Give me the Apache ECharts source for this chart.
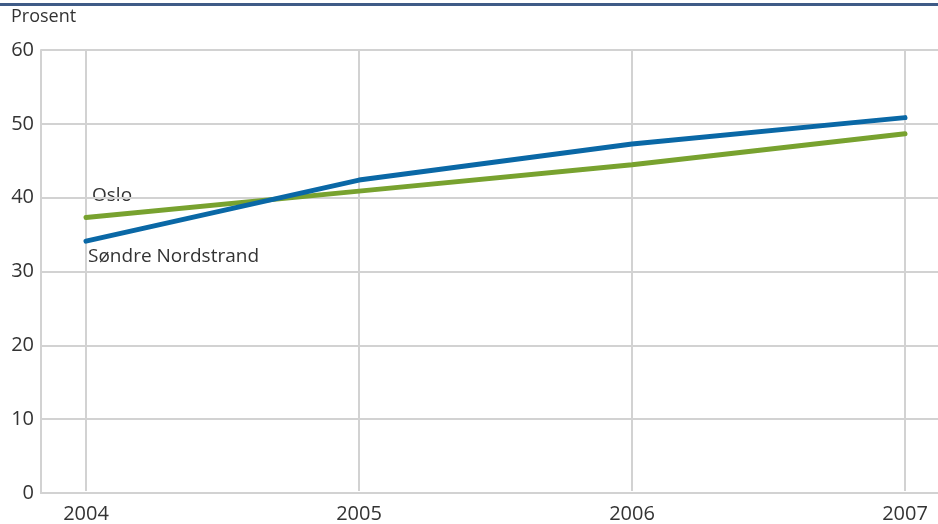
<!DOCTYPE html>
<html>
<head>
<meta charset="utf-8">
<script src="https://cdn.jsdelivr.net/npm/echarts@6/dist/echarts.min.js"></script>
<style>
  html, body { margin: 0; padding: 0; background: #fff; }
  #chart { width: 938px; height: 524px; }
</style>
</head>
<body>
<div id="chart"></div>
<script>
// data
const years = ['2004', '2005', '2006', '2007'];
const sondreNordstrand = [34.0, 42.3, 47.2, 50.8];
const oslo = [37.2, 40.8, 44.4, 48.6];
const yTicks = { min: 0, max: 60, interval: 10 };

const font = '"Open Sans", "Noto Sans", sans-serif';
const gridColor = '#d2d2d2';
const textColor = '#333';

const chart = echarts.init(document.getElementById('chart'));

chart.setOption({
  animation: false,
  textStyle: { fontFamily: font },
  graphic: [
    // top border line
    { type: 'rect', shape: { x: 0, y: 3, width: 938, height: 3 }, style: { fill: '#3f5b87' } },
    { type: 'text', left: 11, top: 8, style: { text: 'Prosent', font: '18px ' + font, fill: textColor } },
    { type: 'text', left: 92, top: 186, style: { text: 'Oslo', font: '19px ' + font, fill: textColor } },
    { type: 'text', left: 88, top: 247, style: { text: 'Søndre Nordstrand', font: '19px ' + font, fill: textColor } }
  ],
  grid: [
    { left: 41, right: 0, top: 50, bottom: 31 },
    { left: 86, right: 33, top: 50, bottom: 31 }
  ],
  xAxis: [
    {
      gridIndex: 0,
      type: 'category',
      data: years,
      axisLine: { lineStyle: { color: gridColor, width: 2 } },
      axisTick: { show: false },
      axisLabel: { show: false },
      splitLine: { show: false }
    },
    {
      gridIndex: 1,
      type: 'category',
      data: years,
      boundaryGap: false,
      axisLine: { show: false },
      axisTick: { show: false },
      axisLabel: { color: textColor, fontSize: 20, margin: 13 },
      splitLine: { show: true, lineStyle: { color: gridColor, width: 2 } }
    }
  ],
  yAxis: [
    {
      gridIndex: 0,
      type: 'value',
      min: yTicks.min,
      max: yTicks.max,
      interval: yTicks.interval,
      axisLine: { show: true, lineStyle: { color: gridColor, width: 2 } },
      axisTick: { show: false },
      axisLabel: { color: textColor, fontSize: 20, margin: 7 },
      splitLine: { lineStyle: { color: gridColor, width: 2 } }
    },
    {
      gridIndex: 1,
      type: 'value',
      min: yTicks.min,
      max: yTicks.max,
      interval: yTicks.interval,
      show: false,
      splitLine: { show: false }
    }
  ],
  series: [
    {
      name: 'Oslo',
      type: 'line',
      xAxisIndex: 1,
      yAxisIndex: 1,
      data: oslo,
      symbol: 'none',
      lineStyle: { color: '#78a22f', width: 5, cap: 'round' }
    },
    {
      name: 'Søndre Nordstrand',
      type: 'line',
      xAxisIndex: 1,
      yAxisIndex: 1,
      data: sondreNordstrand,
      symbol: 'none',
      lineStyle: { color: '#0a68a6', width: 5, cap: 'round' }
    }
  ]
});
</script>
</body>
</html>
